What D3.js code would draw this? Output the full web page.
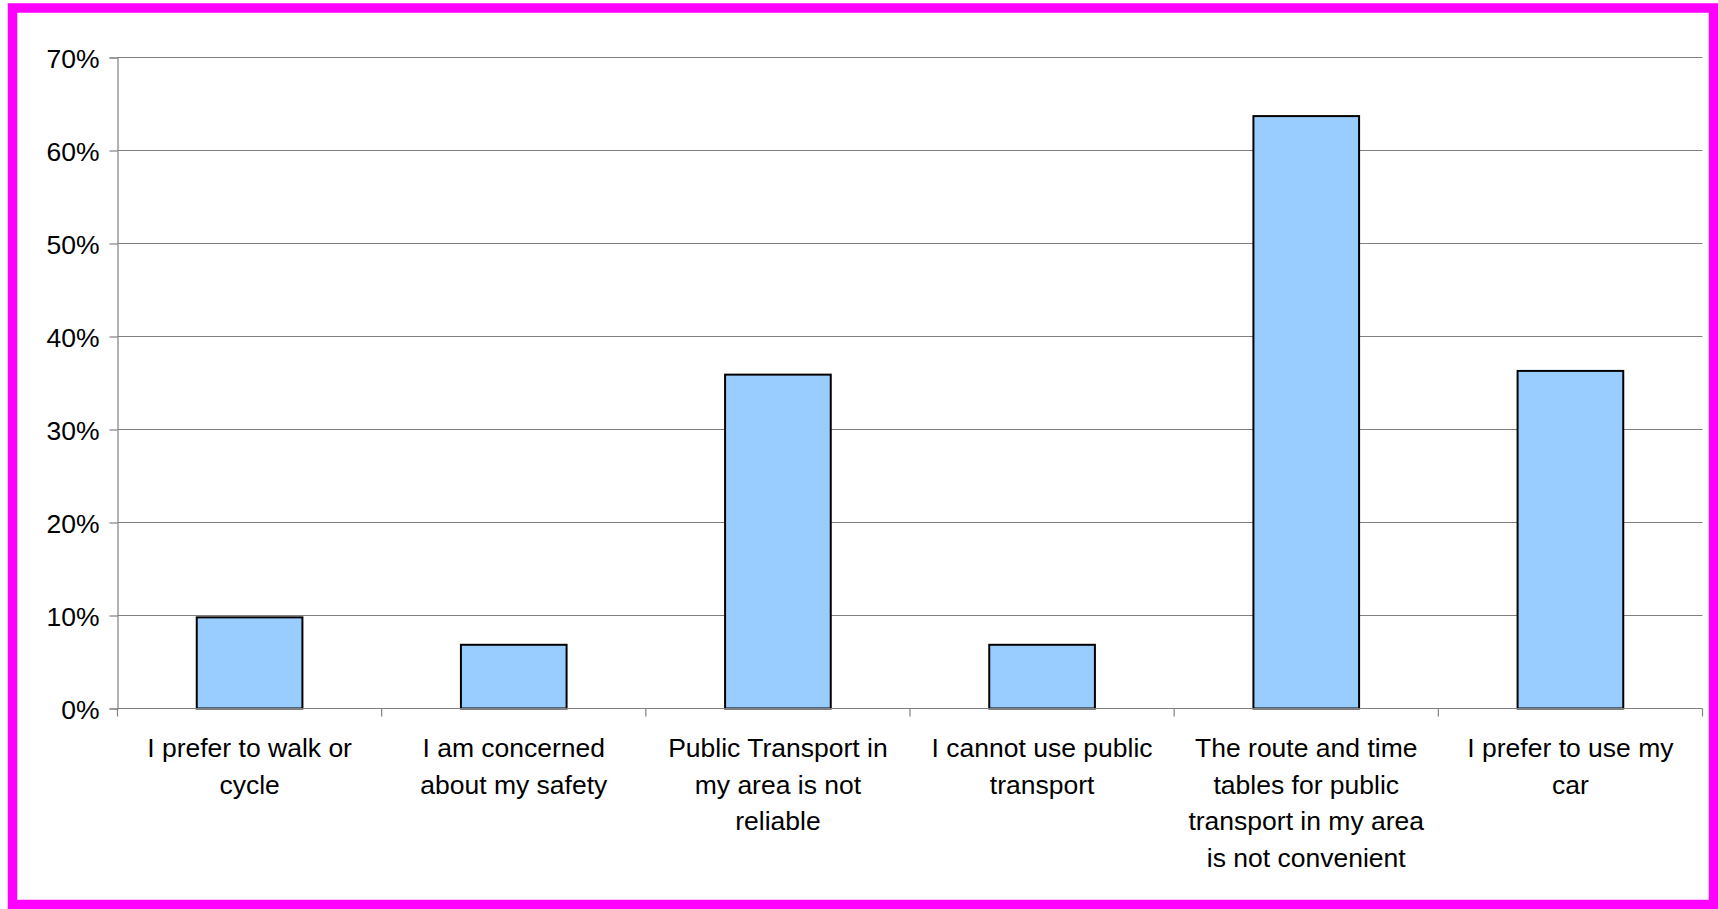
<!DOCTYPE html>
<html>
<head>
<meta charset="utf-8">
<script src="https://cdn.jsdelivr.net/npm/d3@7"></script>
<style>
html,body{margin:0;padding:0;background:#fff;}
svg{display:block;}
text{font-family:"Liberation Sans",Arial,Helvetica,sans-serif;fill:#000;}
</style>
</head>
<body>
<svg id="chart" width="1718" height="909"></svg>
<script>
const categories = [
  "I prefer to walk or\ncycle",
  "I am concerned\nabout my safety",
  "Public Transport in\nmy area is not\nreliable",
  "I cannot use public\ntransport",
  "The route and time\ntables for public\ntransport in my area\nis not convenient",
  "I prefer to use my\ncar"
];
const values = [9.8, 6.85, 35.9, 6.85, 63.7, 36.3];
const yTicks = [0, 10, 20, 30, 40, 50, 60, 70];

(function () {
const svg = d3.select("#chart");
const plotLeft = 117.5, plotRight = 1702.5, plotTop = 57.5, plotBottom = 708.5;

// magenta frame
svg.append("rect")
  .attr("x", 12.5).attr("y", 8).attr("width", 1701).attr("height", 896.5)
  .attr("fill", "none").attr("stroke", "#ff00ff").attr("stroke-width", 9.5);

const x = d3.scaleBand().domain(categories).range([plotLeft, plotRight]).padding(0);
const y = d3.scaleLinear().domain([0, 70]).range([plotBottom, plotTop]);

// gridlines
svg.append("g").selectAll("line").data(yTicks.filter(d => d > 0)).join("line")
  .attr("x1", plotLeft).attr("x2", plotRight)
  .attr("y1", d => y(d)).attr("y2", d => y(d))
  .attr("stroke", "#808080").attr("stroke-width", 1.2);

// y axis
const yAxis = d3.axisLeft(y).tickValues(yTicks).tickSize(8).tickPadding(10)
  .tickFormat(d => d + "%");
const gy = svg.append("g").attr("transform", `translate(${plotLeft},0)`).call(yAxis);
gy.select(".domain").attr("stroke", "#808080").attr("stroke-width", 1.2);
gy.selectAll(".tick line").attr("stroke", "#808080").attr("stroke-width", 1.2);
gy.selectAll(".tick text").attr("font-size", 26.5).attr("font-family", "Liberation Sans, Arial, sans-serif")
  .attr("fill", "#000").attr("dy", "0.36em");

// bars
const bw = x.bandwidth() * 0.4;
svg.append("g").selectAll("rect").data(values).join("rect")
  .attr("x", (d, i) => x(categories[i]) + (x.bandwidth() - bw) / 2)
  .attr("y", d => y(d))
  .attr("width", bw)
  .attr("height", d => y(0) - y(d))
  .attr("fill", "#99ccff")
  .attr("stroke", "#000").attr("stroke-width", 2);

// x axis
svg.append("line").attr("x1", plotLeft).attr("x2", plotRight).attr("y1", plotBottom).attr("y2", plotBottom)
  .attr("stroke", "#808080").attr("stroke-width", 1.2);
const boundaries = categories.map(c => x(c)).concat([plotRight]);
svg.append("g").selectAll("line").data(boundaries).join("line")
  .attr("x1", d => d).attr("x2", d => d).attr("y1", plotBottom).attr("y2", plotBottom + 8)
  .attr("stroke", "#808080").attr("stroke-width", 1.2);

// category labels
const lab = svg.append("g").selectAll("text").data(categories).join("text")
  .attr("text-anchor", "middle")
  .attr("font-size", 26.5)
  .attr("transform", d => `translate(${x(d) + x.bandwidth() / 2},757)`);
lab.selectAll("tspan").data(d => d.split("\n")).join("tspan")
  .attr("x", 0).attr("y", (d, i) => i * 36.5).text(d => d);
})();
</script>
</body>
</html>
